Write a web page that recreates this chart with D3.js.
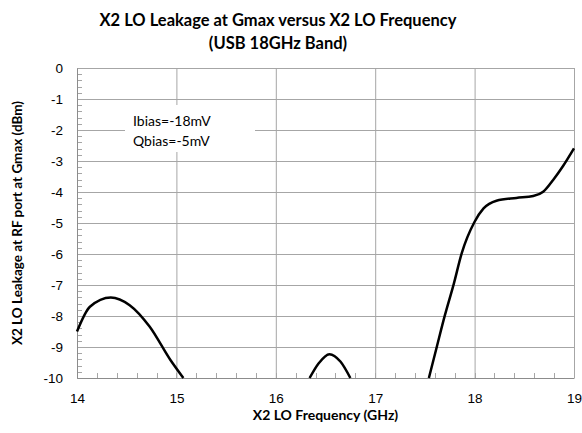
<!DOCTYPE html>
<html>
<head>
<meta charset="utf-8">
<script src="https://cdn.jsdelivr.net/npm/d3@7"></script>
<style>
  body { margin: 0; background: #fff; }
  svg { font-family: Lato, "Liberation Sans", sans-serif; }
</style>
</head>
<body>
<div id="chart"></div>
<script>
// values; null marks a gap where the trace is below -10 dBm
const freqGHz = [14.0, 14.13, 14.34, 14.53, 14.73, 14.94, 15.07, null,
  16.34, 16.43, 16.54, 16.65, 16.75, null,
  17.54, 17.62, 17.70, 17.79, 17.87, 18.0, 18.09, 18.22, 18.42, 18.59, 18.69, 18.79, 18.89, 19.0];
const leakDbm = [-8.5, -7.7, -7.4, -7.65, -8.34, -9.42, -10, null,
  -10, -9.53, -9.23, -9.47, -10, null,
  -10, -8.99, -7.99, -6.97, -5.98, -4.96, -4.53, -4.28, -4.19, -4.13, -3.99, -3.61, -3.16, -2.59];
const xTicks = [14, 15, 16, 17, 18, 19];
const yTicks = [0, -1, -2, -3, -4, -5, -6, -7, -8, -9, -10];
const titleLines = ['X2 LO Leakage at Gmax  versus X2 LO Frequency', '(USB 18GHz Band)'];
const noteLines = ['Ibias=-18mV', 'Qbias=-5mV'];

const W = 582, H = 433;
const margin = {top: 68, right: 8, bottom: 55, left: 77};
const iw = W - margin.left - margin.right, ih = H - margin.top - margin.bottom;

const points = freqGHz.map((f, i) => ({f: f, v: leakDbm[i]}));

const x = d3.scaleLinear().domain([14, 19]).range([0, iw]);
const y = d3.scaleLinear().domain([-10, 0]).range([ih, 0]);

const svg = d3.select('#chart').append('svg')
  .attr('width', W).attr('height', H);

// title
svg.append('g').selectAll('text')
  .data(titleLines).enter().append('text')
  .attr('x', 278).attr('y', (d, i) => 26 + i * 23)
  .attr('text-anchor', 'middle')
  .attr('font-size', 16.5).attr('font-weight', 'bold')
  .attr('fill', '#000')
  .text(d => d);

const g = svg.append('g').attr('transform', `translate(${margin.left}, ${margin.top})`);

// grid
g.append('g').attr('class', 'grid-y')
  .selectAll('line').data(yTicks).enter().append('line')
  .attr('x1', 0).attr('x2', iw)
  .attr('y1', d => y(d) + 0.5).attr('y2', d => y(d) + 0.5)
  .attr('stroke', '#a6a6a6');
g.append('g').attr('class', 'grid-x')
  .selectAll('line').data(xTicks).enter().append('line')
  .attr('y1', 0).attr('y2', ih)
  .attr('x1', d => x(d) + 0.5).attr('x2', d => x(d) + 0.5)
  .attr('stroke', '#a6a6a6');

// minor ticks pointing into the plot
const xMinor = d3.range(14, 19.001, 0.2);
const yMinor = d3.range(-10, 0.001, 0.2);
g.append('g').selectAll('line').data(xMinor).enter().append('line')
  .attr('x1', d => Math.round(x(d)) + 0.5).attr('x2', d => Math.round(x(d)) + 0.5)
  .attr('y1', ih).attr('y2', ih - 5)
  .attr('stroke', '#a6a6a6');
g.append('g').selectAll('line').data(yMinor).enter().append('line')
  .attr('y1', d => Math.round(y(d)) + 0.5).attr('y2', d => Math.round(y(d)) + 0.5)
  .attr('x1', 0).attr('x2', 5)
  .attr('stroke', '#a6a6a6');

// axes
const xAxis = d3.axisBottom(x).tickValues(xTicks).tickSize(0).tickPadding(15).tickFormat(d3.format('d'));
const yAxis = d3.axisLeft(y).tickValues(yTicks).tickSize(0).tickPadding(14).tickFormat(d => d === 0 ? '0' : '-' + Math.abs(d));
g.append('g').attr('transform', `translate(0, ${ih})`).call(xAxis)
  .call(s => s.select('.domain').attr('stroke', '#8c8c8c'))
  .call(s => s.selectAll('text').attr('font-size', 13.5).attr('fill', '#000').attr('font-family', null));
g.append('g').call(yAxis)
  .call(s => s.select('.domain').attr('stroke', '#8c8c8c'))
  .call(s => s.selectAll('text').attr('font-size', 13.5).attr('fill', '#000').attr('font-family', null));

// note box
g.append('rect')
  .attr('x', 48).attr('y', 37).attr('width', 130).attr('height', 47)
  .attr('fill', '#fff');
g.append('g').selectAll('text').data(noteLines).enter().append('text')
  .attr('x', 56).attr('y', (d, i) => 58 + i * 20)
  .attr('font-size', 14).attr('fill', '#000')
  .text(d => d);

// curve
const line = d3.line()
  .defined(d => d.f !== null)
  .x(d => x(d.f)).y(d => y(d.v))
  .curve(d3.curveMonotoneX);
g.append('path')
  .datum(points)
  .attr('d', line)
  .attr('fill', 'none')
  .attr('stroke', '#000')
  .attr('stroke-width', 2.5);

// axis titles
svg.append('text')
  .attr('x', margin.left + iw / 2).attr('y', 420)
  .attr('text-anchor', 'middle')
  .attr('font-size', 14).attr('font-weight', 'bold')
  .text('X2 LO Frequency (GHz)');
svg.append('text')
  .attr('transform', `translate(22, ${margin.top + ih / 2}) rotate(-90)`)
  .attr('text-anchor', 'middle')
  .attr('font-size', 13.5).attr('font-weight', 'bold')
  .text('X2 LO Leakage at RF port at Gmax (dBm)');
</script>
</body>
</html>
